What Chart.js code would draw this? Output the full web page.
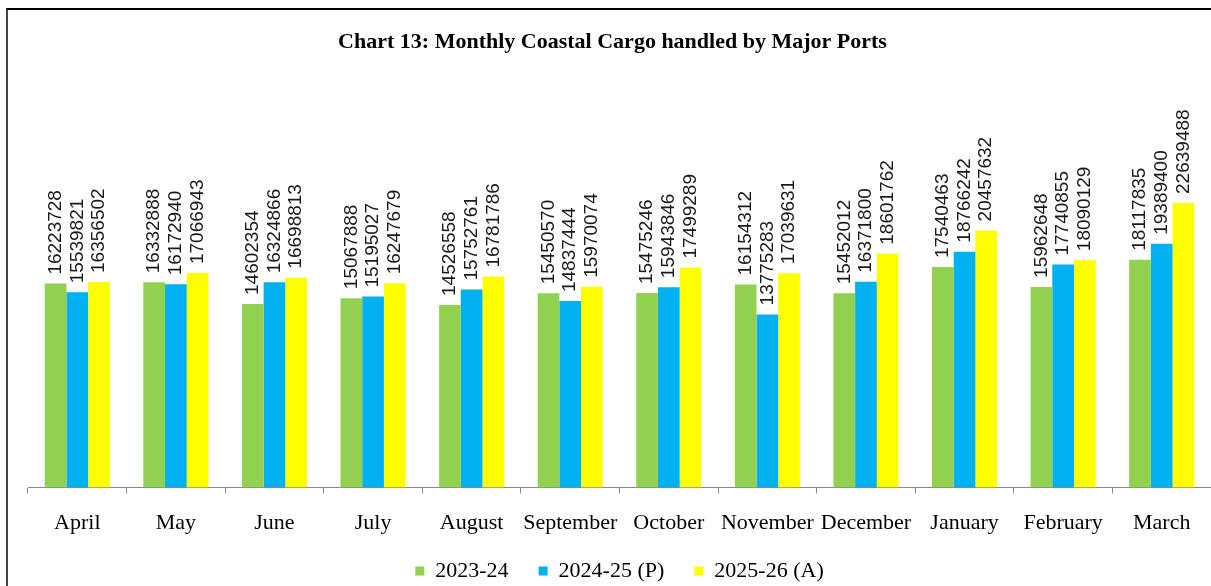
<!DOCTYPE html>
<html>
<head>
<meta charset="utf-8">
<script src="https://cdn.jsdelivr.net/npm/chart.js@4"></script>
<style>
  html, body { margin: 0; padding: 0; background: #fff; overflow: hidden; }
  #wrap { position: relative; width: 1211px; height: 592px; }
  #frame { position: absolute; left: 6px; top: 8px; right: 0; bottom: -10px;
    border-top: 2px solid #000; border-left: 2px solid #444; pointer-events: none; }
</style>
</head>
<body>
<div id="wrap">
  <canvas id="cargo"></canvas>
  <div id="frame"></div>
</div>
<script>
const months = ["April", "May", "June", "July", "August", "September",
  "October", "November", "December", "January", "February", "March"];

const fy2324 = [16223728, 16332888, 14602354, 15067888, 14526558, 15450570,
  15475246, 16154312, 15452012, 17540463, 15962648, 18117835];
const fy2425 = [15539821, 16172940, 16324866, 15195027, 15752761, 14837444,
  15943846, 13775283, 16371800, 18766242, 17740855, 19389400];
const fy2526 = [16356502, 17066943, 16698813, 16247679, 16781786, 15970074,
  17499289, 17039631, 18601762, 20457632, 18090129, 22639488];

const seriesNames = ["2023-24", "2024-25 (P)", "2025-26 (A)"];
const seriesColors = ["#92D050", "#00B0F0", "#FFFF00"];

const serif = '"Liberation Serif", "Times New Roman", serif';

// vertical numbers above every bar
const valueLabels = {
  id: "valueLabels",
  afterDatasetsDraw(chart) {
    const { ctx } = chart;
    ctx.save();
    ctx.font = '19px "Liberation Sans", Arial, sans-serif';
    ctx.fillStyle = "#1a1a1a";
    ctx.textAlign = "left";
    ctx.textBaseline = "middle";
    chart.data.datasets.forEach((ds, i) => {
      chart.getDatasetMeta(i).data.forEach((bar, j) => {
        ctx.save();
        ctx.translate(bar.x, bar.y - 9);
        ctx.rotate(-Math.PI / 2);
        ctx.fillText(String(ds.data[j]), 0, 0);
        ctx.restore();
      });
    });
    ctx.restore();
  },
};

const datasets = [fy2324, fy2425, fy2526].map((data, i) => ({
  label: seriesNames[i],
  data,
  backgroundColor: seriesColors[i],
  borderWidth: 0,
  categoryPercentage: 0.66,
  barPercentage: 1.0,
}));

new Chart("cargo", {
  type: "bar",
  data: { labels: months, datasets },
  plugins: [valueLabels],
  options: {
    responsive: true,
    maintainAspectRatio: false,
    animation: false,
    layout: { padding: { left: 14, right: 0, top: 0, bottom: 0 } },
    plugins: {
      title: {
        display: true,
        text: "Chart 13: Monthly Coastal Cargo handled by Major Ports",
        color: "#000",
        font: { family: serif, size: 22, weight: "bold", lineHeight: 1.2 },
        padding: { top: 29, bottom: 55 },
      },
      legend: {
        position: "bottom",
        fullSize: false,
        labels: {
          color: "#000",
          font: { family: serif, size: 22 },
          boxWidth: 9,
          boxHeight: 9,
          padding: 8,
          // a little extra room after the first two entries
          generateLabels: (chart) =>
            Chart.defaults.plugins.legend.labels
              .generateLabels(chart)
              .map((item, i) => ({ ...item, text: i < 2 ? item.text + "    " : item.text })),
        },
      },
      tooltip: { enabled: false },
    },
    scales: {
      x: {
        grid: {
          drawOnChartArea: false,
          drawTicks: true,
          tickLength: 6,
          color: "#888",
        },
        border: { color: "#888" },
        ticks: {
          color: "#000",
          padding: 16,
          maxRotation: 0,
          autoSkip: false,
          font: { family: serif, size: 22 },
        },
      },
      y: {
        min: 0,
        max: 30000000,
        ticks: { display: false },
        grid: { display: false },
        border: { display: false },
        afterFit: (scale) => { scale.width = 14; },
      },
    },
  },
});
</script>
</body>
</html>
